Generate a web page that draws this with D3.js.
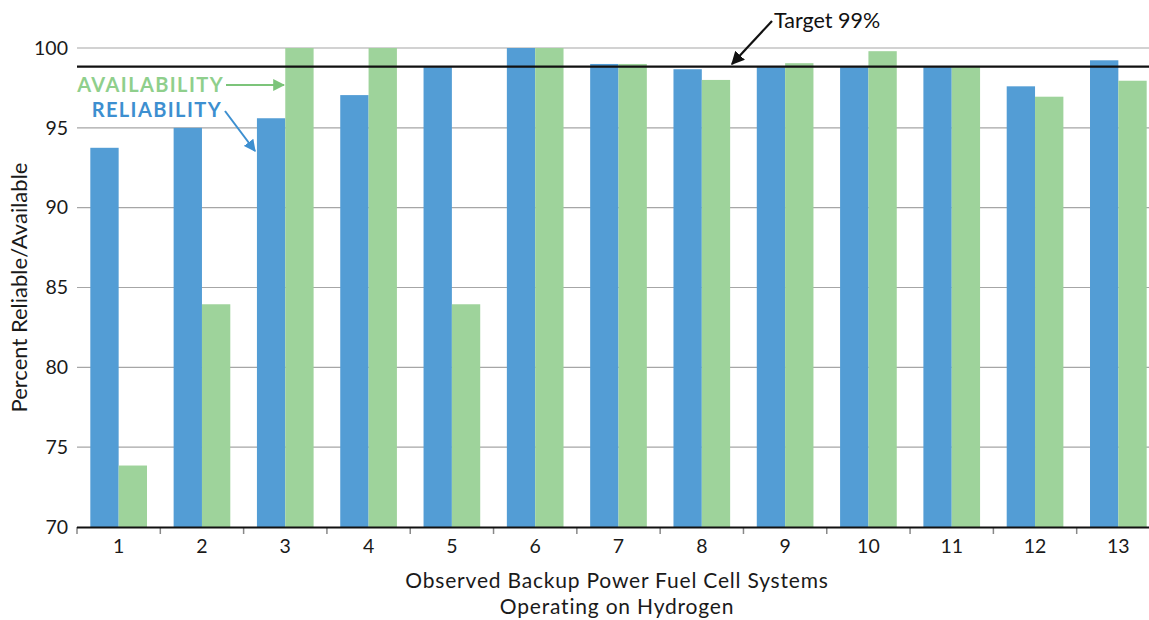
<!DOCTYPE html>
<html>
<head>
<meta charset="utf-8">
<script src="https://cdn.jsdelivr.net/npm/d3@7"></script>
<style>
  body { margin: 0; background: #fff; }
  svg text { font-family: Lato, "Open Sans", sans-serif; }
</style>
</head>
<body>
<svg id="chart" width="1149" height="620"></svg>
<script>
// data
const systems = ["1","2","3","4","5","6","7","8","9","10","11","12","13"];
const reliability  = [93.75, 95.0, 95.6, 97.05, 98.8, 100, 99.0, 98.67, 98.8, 98.8, 98.8, 97.6, 99.23];
const availability = [73.85, 83.95, 100, 100, 83.95, 100, 99.0, 98.0, 99.05, 99.8, 98.8, 96.95, 97.95];
const yTicks = [70, 75, 80, 85, 90, 95, 100];
const xTitle = ["Observed Backup Power Fuel Cell Systems", "Operating on Hydrogen"];
const target = 98.83;

const svg = d3.select("#chart");
const plotL = 77, plotR = 1160, plotT = 48, plotB = 527;

const x = d3.scaleBand().domain(systems).range([plotL, plotR]).padding(0);
const x1 = d3.scaleBand().domain(["rel", "avail"]).range([0, x.bandwidth()]).paddingInner(0).paddingOuter(0.47);
const y = d3.scaleLinear().domain([70, 100]).range([plotB, plotT]);

// grid
svg.append("g").selectAll("line")
  .data(yTicks.filter(d => d > 70))
  .enter().append("line")
  .attr("x1", plotL).attr("x2", 1149)
  .attr("y1", d => y(d)).attr("y2", d => y(d))
  .attr("stroke", "#a6a6a6").attr("stroke-width", 1.2);

// y labels
svg.append("g").selectAll("text")
  .data(yTicks)
  .enter().append("text")
  .attr("x", 68).attr("y", d => y(d))
  .attr("dy", "0.35em")
  .attr("text-anchor", "end")
  .attr("font-size", 19.5)
  .attr("fill", "#1a1a1a")
  .text(d => d);

// bars
const rows = systems.map((s, i) => ({ s: s, rel: reliability[i], avail: availability[i] }));
const groups = svg.append("g").selectAll("g")
  .data(rows).enter().append("g")
  .attr("transform", d => "translate(" + x(d.s) + ",0)");

groups.append("rect")
  .attr("x", x1("rel")).attr("width", x1.bandwidth())
  .attr("y", d => y(d.rel)).attr("height", d => y(70) - y(d.rel))
  .attr("fill", "#539dd5");
groups.append("rect")
  .attr("x", x1("avail")).attr("width", x1.bandwidth())
  .attr("y", d => y(d.avail)).attr("height", d => y(70) - y(d.avail))
  .attr("fill", "#9ed39b");

// target line
svg.append("line")
  .attr("x1", plotL).attr("x2", 1149)
  .attr("y1", y(target)).attr("y2", y(target))
  .attr("stroke", "#111").attr("stroke-width", 2.2);

// x axis
const xAxis = d3.axisBottom(x).tickSize(0).tickPadding(12);
const gx = svg.append("g").attr("transform", "translate(0," + plotB + ")").call(xAxis);
gx.select(".domain").remove();
gx.selectAll("text").attr("font-size", 19.5).attr("fill", "#1a1a1a")
  .attr("font-family", "Lato, 'Open Sans', sans-serif");

svg.append("g").selectAll("line")
  .data(systems)
  .enter().append("line")
  .attr("x1", d => x(d)).attr("x2", d => x(d))
  .attr("y1", plotB).attr("y2", plotB + 7)
  .attr("stroke", "#888").attr("stroke-width", 1.5);

svg.append("line")
  .attr("x1", plotL).attr("x2", 1149)
  .attr("y1", plotB + 0.5).attr("y2", plotB + 0.5)
  .attr("stroke", "#111").attr("stroke-width", 2.2);

// axis titles
svg.append("text")
  .attr("transform", "translate(27," + ((plotT + plotB) / 2) + ") rotate(-90)")
  .attr("text-anchor", "middle")
  .attr("font-size", 22).attr("fill", "#1a1a1a")
  .text("Percent Reliable/Available");

svg.append("g").selectAll("text")
  .data(xTitle)
  .enter().append("text")
  .attr("text-anchor", "middle")
  .attr("font-size", 21).attr("letter-spacing", 0.8)
  .attr("fill", "#1a1a1a")
  .attr("x", 617)
  .attr("y", (d, i) => 588 + i * 26)
  .text(d => d);

// arrow markers
const defs = svg.append("defs");
function marker(id, color) {
  defs.append("marker")
    .attr("id", id)
    .attr("viewBox", "0 0 10 10")
    .attr("refX", 9).attr("refY", 5)
    .attr("markerWidth", 6).attr("markerHeight", 6)
    .attr("orient", "auto")
    .append("path").attr("d", "M0,0 L10,5 L0,10 z").attr("fill", color);
}
marker("arBlack", "#111");
marker("arGreen", "#7cc47a");
marker("arBlue", "#3d8fd0");

// annotations
svg.append("text")
  .attr("x", 774).attr("y", 28)
  .attr("font-size", 21.5).attr("fill", "#111")
  .text("Target 99%");
svg.append("line")
  .attr("x1", 772).attr("y1", 21).attr("x2", 732).attr("y2", 64)
  .attr("stroke", "#111").attr("stroke-width", 2.2)
  .attr("marker-end", "url(#arBlack)");

svg.append("text")
  .attr("x", 224).attr("y", 92)
  .attr("text-anchor", "end")
  .attr("font-size", 20).attr("font-weight", "bold")
  .attr("letter-spacing", 1.4)
  .attr("fill", "#8fcf8c")
  .text("AVAILABILITY");
svg.append("line")
  .attr("x1", 226).attr("y1", 85).attr("x2", 284).attr("y2", 85)
  .attr("stroke", "#7cc47a").attr("stroke-width", 2)
  .attr("marker-end", "url(#arGreen)");

svg.append("text")
  .attr("x", 222).attr("y", 117)
  .attr("text-anchor", "end")
  .attr("font-size", 20).attr("font-weight", "bold")
  .attr("letter-spacing", 1.4)
  .attr("fill", "#3d8fd0")
  .text("RELIABILITY");
svg.append("line")
  .attr("x1", 225).attr("y1", 111).attr("x2", 255).attr("y2", 151)
  .attr("stroke", "#3d8fd0").attr("stroke-width", 2)
  .attr("marker-end", "url(#arBlue)");
</script>
</body>
</html>
